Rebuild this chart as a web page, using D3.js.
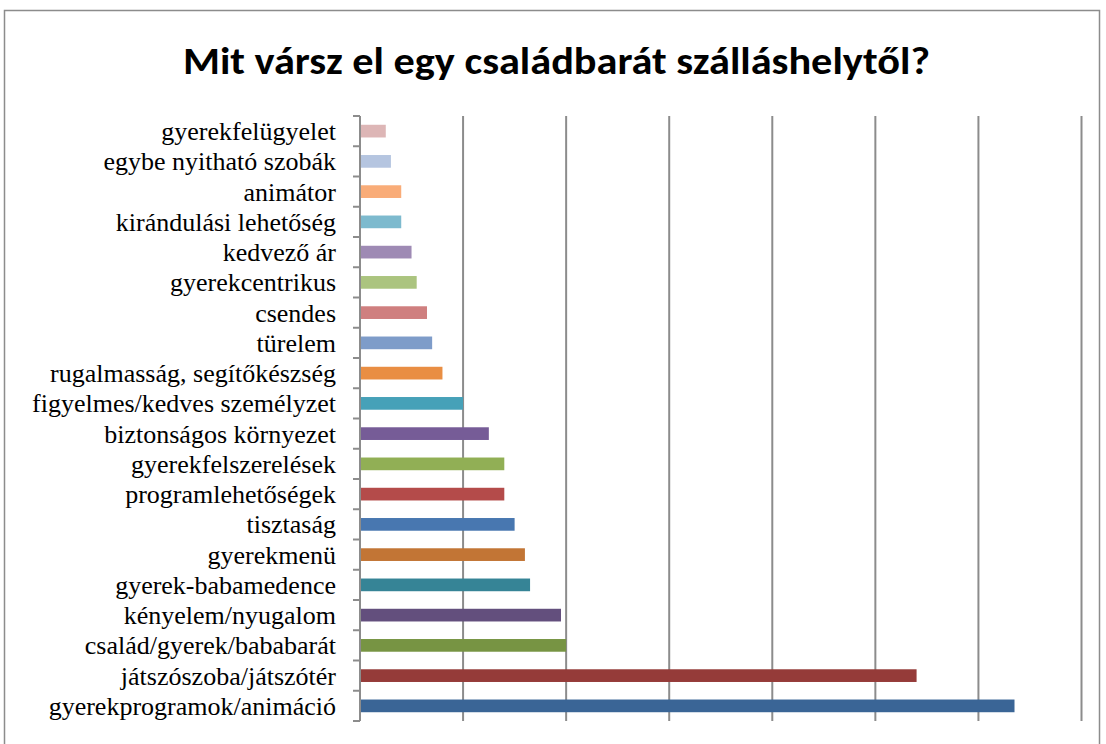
<!DOCTYPE html>
<meta charset="utf-8">
<style>
    body { margin: 0; background: white; }
    .label { font-family: "Liberation Serif", "Times New Roman", serif; font-size: 26px; fill: #000; }
    .title { font-family: Calibri, Carlito, "Open Sans", sans-serif; font-weight: bold; font-size: 38px; fill: #000; }
    .grid line { stroke: #8c8c8c; stroke-width: 2; }
    .axis line { stroke: #8c8c8c; stroke-width: 2; }
</style>
<body>
<script src="https://d3js.org/d3.v7.min.js"></script>
<script>
    // top-to-bottom order as shown
    var categories = [
        'gyerekfelügyelet', 'egybe nyitható szobák', 'animátor', 'kirándulási lehetőség',
        'kedvező ár', 'gyerekcentrikus', 'csendes', 'türelem',
        'rugalmasság, segítőkészség', 'figyelmes/kedves személyzet', 'biztonságos környezet',
        'gyerekfelszerelések', 'programlehetőségek', 'tisztaság', 'gyerekmenü',
        'gyerek-babamedence', 'kényelem/nyugalom', 'család/gyerek/bababarát',
        'játszószoba/játszótér', 'gyerekprogramok/animáció'
    ];
    var values = [5, 6, 8, 8, 10, 11, 13, 14, 16, 20, 25, 28, 28, 30, 32, 33, 39, 40, 108, 127];
    var colors = [
        '#DDB6B6', '#B5C5E0', '#F9AC78', '#7DBACE', '#9E8AB4', '#ABC47F', '#CF7F7F', '#7E9CC9',
        '#E98E43', '#46A1B8', '#765C97', '#91AF55', '#B44B4A', '#4877B0', '#C27535',
        '#368496', '#634F7D', '#779443', '#953B39', '#3A6596'
    ];
    var xTicks = [0, 20, 40, 60, 80, 100, 120, 140];
    var title = 'Mit vársz el egy családbarát szálláshelytől?';

    var W = 1106, H = 744,
        plotLeft = 360, plotRight = 1081.5, plotTop = 116, plotBottom = 721;

    var svg = d3.select('body').append('svg')
        .attr('width', W)
        .attr('height', H);

    // outer chart frame
    svg.append('rect')
        .attr('x', 4.5).attr('y', 10.5)
        .attr('width', 1095).attr('height', 760)
        .attr('fill', 'white')
        .attr('stroke', '#8c8c8c')
        .attr('stroke-width', 1.5);

    svg.append('text')
        .attr('class', 'title')
        .attr('x', 556.5)
        .attr('y', 74)
        .attr('text-anchor', 'middle')
        .attr('textLength', 747)
        .attr('lengthAdjust', 'spacingAndGlyphs')
        .text(title);

    var x = d3.scaleLinear().domain([0, 140]).range([plotLeft, plotRight]);
    var y = d3.scaleBand().domain(categories).range([plotTop, plotBottom])
        .paddingInner(0.58).paddingOuter(0.29);

    // vertical gridlines
    svg.append('g').attr('class', 'grid')
        .selectAll('line')
        .data(xTicks.slice(1)).enter()
        .append('line')
        .attr('x1', function(d) { return x(d); })
        .attr('x2', function(d) { return x(d); })
        .attr('y1', plotTop).attr('y2', plotBottom);

    // bars
    svg.append('g')
        .selectAll('rect')
        .data(categories).enter()
        .append('rect')
        .attr('x', x(0) + 1)
        .attr('y', function(d) { return y(d); })
        .attr('width', function(d, i) { return x(values[i]) - x(0) - 1; })
        .attr('height', y.bandwidth())
        .attr('fill', function(d, i) { return colors[i]; });

    // category axis with ticks between bands
    var step = y.step();
    var ax = svg.append('g').attr('class', 'axis');
    ax.append('line')
        .attr('x1', x(0)).attr('x2', x(0))
        .attr('y1', plotTop).attr('y2', plotBottom);
    ax.selectAll('line.tick')
        .data(d3.range(categories.length + 1)).enter()
        .append('line')
        .attr('class', 'tick')
        .attr('x1', x(0) - 7).attr('x2', x(0))
        .attr('y1', function(i) { return plotTop + i * step; })
        .attr('y2', function(i) { return plotTop + i * step; });

    svg.append('g')
        .selectAll('text')
        .data(categories).enter()
        .append('text')
        .attr('class', 'label')
        .attr('x', 336)
        .attr('y', function(d) { return y(d) + y.bandwidth() / 2; })
        .attr('dy', '0.35em')
        .attr('text-anchor', 'end')
        .text(function(d) { return d; });
</script>
</body>
